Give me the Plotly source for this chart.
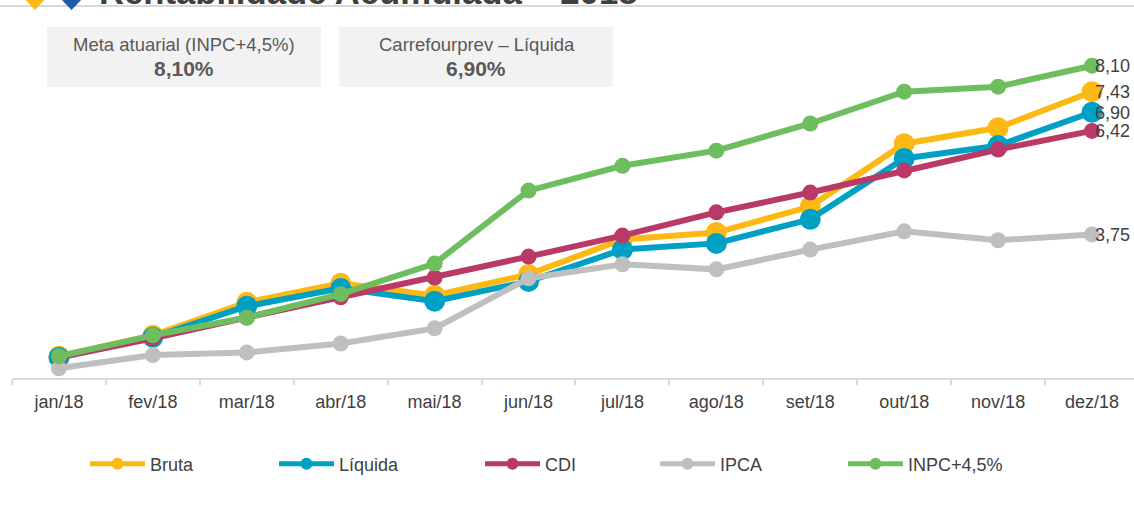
import plotly.graph_objects as go

months = ["jan/18","fev/18","mar/18","abr/18","mai/18","jun/18","jul/18","ago/18","set/18","out/18","nov/18","dez/18"]
bruta   = [0.61,1.15,2.00,2.49,2.18,2.72,3.62,3.80,4.47,6.09,6.50,7.43]
liquida = [0.58,1.10,1.90,2.36,2.03,2.54,3.36,3.52,4.14,5.71,6.04,6.90]
cdi     = [0.58,1.07,1.61,2.13,2.64,3.18,3.72,4.32,4.83,5.40,5.94,6.42]
ipca    = [0.30,0.64,0.71,0.94,1.33,2.62,2.98,2.85,3.36,3.83,3.60,3.75]
inpc    = [0.61,1.15,1.61,2.21,3.00,4.88,5.52,5.91,6.61,7.43,7.56,8.10]

W, H = 1134, 508
L, R, T, B = 12, 0, 20, 129.5
FONT = "Liberation Sans, Arial, sans-serif"
TXT = "#404040"

def px(x): return (x - L) / (W - L - R)
def py(y): return 1 - (y - T) / (H - T - B)

series = [
    ("Bruta", bruta, "#FDB913", 21, 6, 90),
    ("Líquida", liquida, "#00A0C4", 21, 6, 279),
    ("CDI", cdi, "#B93A66", 16, 6, 485),
    ("IPCA", ipca, "#BFBFBF", 16, 6, 660),
    ("INPC+4,5%", inpc, "#6EBE5F", 16, 6, 848),
]

fig = go.Figure()
layout_legends = {}
for i, (name, vals, color, ms, lw, lx) in enumerate(series):
    key = "legend" if i == 0 else f"legend{i+1}"
    fig.add_trace(go.Scatter(
        x=months, y=vals, name=name, mode="lines+markers",
        line=dict(color=color, width=lw),
        marker=dict(color=color, size=ms),
        legend=key, cliponaxis=False,
    ))
    layout_legends[key] = dict(
        xref="container", yref="container",
        x=(lx - 5) / W, y=1 - 464 / H, xanchor="left", yanchor="middle",
        orientation="h", itemwidth=55, itemsizing="constant", bgcolor="rgba(0,0,0,0)",
        font=dict(family=FONT, size=18, color=TXT),
        tracegroupgap=0, itemclick=False, itemdoubleclick=False,
    )

# End-of-line value labels
for name, vals, *_ in series:
    fig.add_annotation(
        x=months[-1], y=vals[-1], text=f"{vals[-1]:.2f}".replace(".", ","),
        showarrow=False, xanchor="left", yanchor="middle", xshift=1, yshift=-0.5,
        font=dict(family=FONT, size=18, color=TXT),
    )

shapes = [
    dict(type="rect", xref="paper", yref="paper", x0=px(47), x1=px(321), y0=py(27), y1=py(87),
         fillcolor="#F2F2F2", line_width=0, layer="below"),
    dict(type="rect", xref="paper", yref="paper", x0=px(339), x1=px(613), y0=py(27), y1=py(87),
         fillcolor="#F2F2F2", line_width=0, layer="below"),
    dict(type="line", xref="paper", yref="paper", x0=px(0), x1=px(W), y0=py(6), y1=py(6),
         line=dict(color="#D9D9D9", width=2), layer="below"),
    dict(type="path", xref="paper", yref="paper",
         path=f"M {px(24)} {py(-2)} L {px(46)} {py(-2)} L {px(35)} {py(10)} Z",
         fillcolor="#FDB913", line_width=0),
    dict(type="path", xref="paper", yref="paper",
         path=f"M {px(60)} {py(-2)} L {px(83)} {py(-2)} L {px(71.5)} {py(10)} Z",
         fillcolor="#1F5CA8", line_width=0),
]

texts = [
    ("Meta atuarial (INPC+4,5%)", 184, 45, 18.5, False),
    ("8,10%", 184, 69, 21, True),
    ("Carrefourprev – Líquida", 477, 45, 18.5, False),
    ("6,90%", 476, 69, 21, True),
]
for t, cx, cy, sz, bold in texts:
    fig.add_annotation(
        xref="paper", yref="paper", x=px(cx), y=py(cy),
        text=f"<b>{t}</b>" if bold else t, showarrow=False,
        xanchor="center", yanchor="middle",
        font=dict(family=FONT, size=sz, color="#595959"),
    )
fig.add_annotation(
    xref="paper", yref="paper", x=px(97), y=py(4), text="<b>Rentabilidade Acumulada – 2018</b>",
    showarrow=False, xanchor="left", yanchor="bottom", yshift=-9,
    font=dict(family=FONT, size=34.7, color="#404040"),
)

fig.update_layout(
    width=W, height=H, margin=dict(l=L, r=R, t=T, b=B, pad=0, autoexpand=False),
    paper_bgcolor="white", plot_bgcolor="white", showlegend=True,
    shapes=shapes,
    xaxis=dict(type="category", categoryorder="array", categoryarray=months,
               range=[-0.5, 11.447], tickson="boundaries", ticks="outside", ticklen=5,
               tickcolor="#D9D9D9", tickwidth=2, showgrid=False, zeroline=False,
               showline=True, linecolor="#D9D9D9", linewidth=2, ticklabelstandoff=6,
               tickfont=dict(family=FONT, size=18, color=TXT)),
    yaxis=dict(range=[0.05, 9.278], visible=False, showgrid=False, zeroline=False),
    **layout_legends,
)

fig.write_html("out.html", config=dict(displayModeBar=False),
               post_script="document.body.style.margin='0';")
